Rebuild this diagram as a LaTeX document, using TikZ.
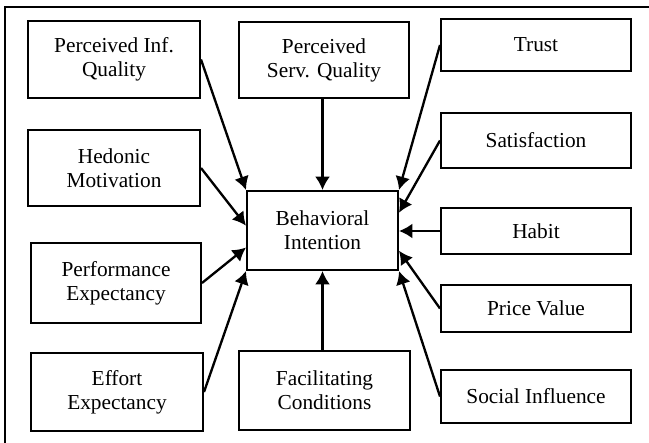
\documentclass[tikz,border=0pt]{standalone}
\usepackage{fontspec}
\setmainfont{Liberation Serif}
\usetikzlibrary{arrows.meta,calc}
\newcommand{\px}{0.6pt}
\begin{document}
\begin{tikzpicture}[x=\px,y=-\px,
  box/.style={draw,line width=1.2pt,align=center,inner sep=0pt,
    font=\fontsize{12.8}{14.4}\selectfont},
  arr/.style={-{Latex[length=8pt,width=9pt]},line width=1.4pt}]
\useasboundingbox (0,0) rectangle (649,443);
% outer frame
\draw[line width=1pt] (5,443) -- (5,7) -- (649,7);
% left column
\node[box,minimum width=172*\px,minimum height=77*\px] (piq) at (114,59.5) {Perceived Inf.\\Quality};
\node[box,minimum width=172*\px,minimum height=76*\px] (hed) at (114,168) {Hedonic\\Motivation};
\node[box,minimum width=170*\px,minimum height=80*\px] (perf) at (116,283) {Performance\\Expectancy};
\node[box,minimum width=172*\px,minimum height=78*\px] (eff) at (117,392) {Effort\\Expectancy};
% middle column
\node[box,minimum width=170*\px,minimum height=76*\px] (psq) at (324,60) {Perceived\\Serv. Quality};
\node[box,minimum width=151*\px,minimum height=79*\px] (bi) at (322.5,230.5) {Behavioral\\Intention};
\node[box,minimum width=171*\px,minimum height=79*\px] (fac) at (324.5,390.5) {Facilitating\\Conditions};
% right column
\node[box,minimum width=190*\px,minimum height=52*\px] (trust) at (536,45) {Trust};
\node[box,minimum width=190*\px,minimum height=55*\px] (sat) at (536,140.5) {Satisfaction};
\node[box,minimum width=190*\px,minimum height=46*\px] (habit) at (536,231) {Habit};
\node[box,minimum width=190*\px,minimum height=47*\px] (price) at (536,308.5) {Price Value};
\node[box,minimum width=190*\px,minimum height=53*\px] (soc) at (536,396.5) {Social Influence};
% arrows into BI
\draw[arr] (piq.east) -- (bi.north west);
\draw[arr] (hed.east) -- ($(bi.north west)!.44!(bi.south west)$);
\draw[arr] (perf.east) -- ($(bi.north west)!.71!(bi.south west)$);
\draw[arr] (eff.east) -- (bi.south west);
\draw[arr] (psq.south -| bi.north) -- (bi.north);
\draw[arr] (fac.north -| bi.south) -- (bi.south);
\draw[arr] (trust.west) -- (bi.north east);
\draw[arr] (sat.west) -- ($(bi.north east)!.28!(bi.south east)$);
\draw[arr] (habit.west) -- (habit.west -| bi.east);
\draw[arr] (price.west) -- ($(bi.north east)!.75!(bi.south east)$);
\draw[arr] (soc.west) -- (bi.south east);
\end{tikzpicture}
\end{document}
